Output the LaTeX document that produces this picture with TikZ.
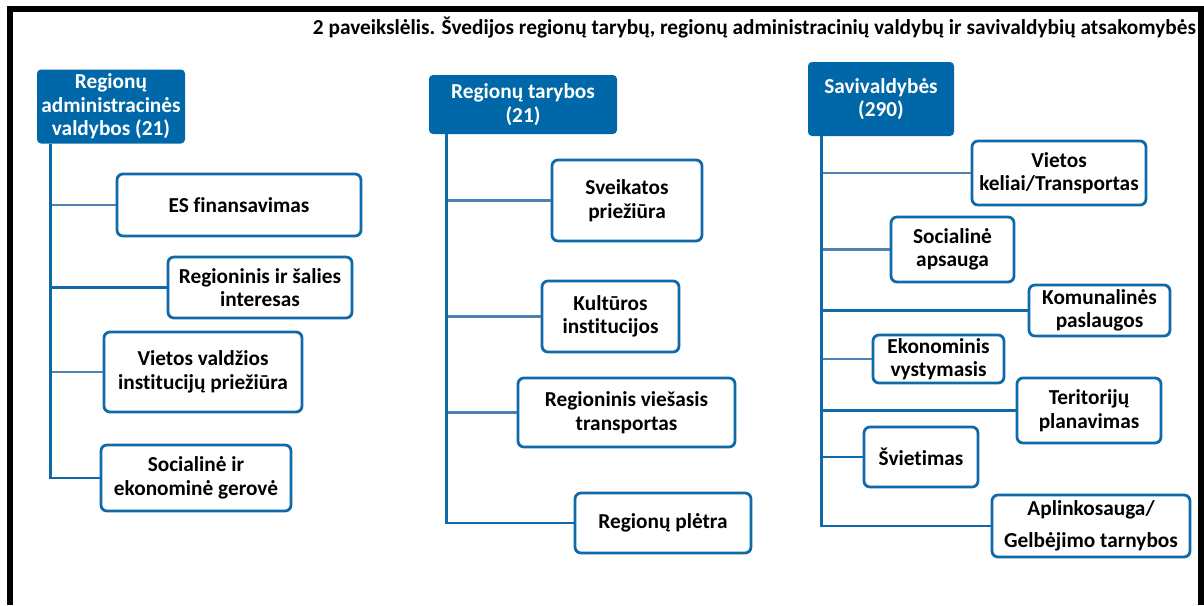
\documentclass[tikz,border=0pt]{standalone}
\usepackage{fontspec}
\setmainfont{Carlito}[Ligatures={NoCommon}]
\usetikzlibrary{calc}
\definecolor{hdrblue}{RGB}{0,104,168}
\definecolor{lineblue}{RGB}{16,106,170}
\definecolor{softblue}{RGB}{78,128,178}
\newcommand{\boxfont}{\bfseries\fontsize{21.3}{23.5}\selectfont}
\tikzset{
  hdr/.style={fill=hdrblue, draw=none, rounded corners=4pt, text=white,
    font=\boxfont, align=center, inner sep=0pt},
  item/.style={draw=lineblue, line width=2.8pt, fill=white, rounded corners=6pt,
    font=\boxfont, align=center, inner sep=0pt},
  trunk/.style={draw=lineblue, line width=2.8pt},
  twig/.style={draw=lineblue, line width=2.8pt},
  softtwig/.style={draw=softblue, line width=2.8pt},
}
\begin{document}
\begin{tikzpicture}[x=1pt, y=-1pt]
\useasboundingbox (0,0) rectangle (1204,605);
% outer frame (open at the bottom)
\fill[black] (7,6) rectangle (1204,12);
\fill[black] (7,6) rectangle (13,605);
\fill[black] (1198,6) rectangle (1204,605);

% heading
\node[anchor=base east, inner sep=0pt, font=\boxfont] (title) at (1196,34)
  {2 paveikslėlis. Švedijos regionų tarybų, regionų administracinių valdybų ir savivaldybių atsakomybės};

% ---------- column 1 ----------
\node[hdr, minimum width=148pt, minimum height=74pt] (h1) at (111,106.5)
  {Regionų\\administracinės\\valdybos (21)};
\node[item, minimum width=244pt, minimum height=62pt] (a1) at (239,205) {ES finansavimas};
\node[item, minimum width=184pt, minimum height=61pt] (a2) at (260,287.5) {Regioninis ir šalies\\interesas};
\node[item, minimum width=198pt, minimum height=80pt] (a3) at (203,372) {Vietos valdžios\\institucijų priežiūra};
\node[item, minimum width=190pt, minimum height=66pt] (a4) at (196,478) {Socialinė ir\\ekonominė gerovė};
\coordinate (t1) at ($(h1.south west)+(14,0)$);

% ---------- column 2 ----------
\node[hdr, minimum width=188pt, minimum height=59pt] (h2) at (523,104.5)
  {Regionų tarybos\\(21)};
\node[item, minimum width=150pt, minimum height=81pt] (b1) at (627,200.5) {Sveikatos\\priežiūra};
\node[item, minimum width=137pt, minimum height=71pt] (b2) at (610.5,316.5) {Kultūros\\institucijos};
\node[item, minimum width=217pt, minimum height=69pt] (b3) at (626.5,412.5) {Regioninis viešasis\\transportas};
\node[item, minimum width=176pt, minimum height=60pt] (b4) at (663,523) {Regionų plėtra};
\coordinate (t2) at ($(h2.south west)+(18,0)$);

% ---------- column 3 ----------
\node[hdr, minimum width=146pt, minimum height=74pt] (h3) at (881,99)
  {Savivaldybės\\(290)};
\node[item, minimum width=174pt, minimum height=64pt] (c1) at (1059,173) {Vietos\\keliai/Transportas};
\node[item, minimum width=123pt, minimum height=65pt] (c2) at (952.5,249.5) {Socialinė\\apsauga};
\node[item, minimum width=141pt, minimum height=51pt] (c3) at (1099.5,310.5) {Komunalinės\\paslaugos};
\node[item, minimum width=131pt, minimum height=48pt] (c4) at (938.5,359) {Ekonominis\\vystymasis};
\node[item, minimum width=144pt, minimum height=65pt] (c5) at (1089,410.5) {Teritorijų\\planavimas};
\node[item, minimum width=114pt, minimum height=60pt] (c6) at (921,457) {Švietimas};
\node[item, minimum width=198pt, minimum height=62pt] (c7) at (1091,526) {Aplinkosauga/\\[9pt]Gelbėjimo tarnybos};
\coordinate (t3) at ($(h3.south west)+(14,0)$);

% ---------- connectors ----------
\draw[softtwig] (t1 |- a1.west) -- (a1.west);
\draw[twig] (t1 |- a2.west) -- (a2.west);
\draw[softtwig] (t1 |- a3.west) -- (a3.west);
\draw[trunk] (t1) |- (a4.west);

\draw[softtwig] (t2 |- b1.west) -- (b1.west);
\draw[softtwig] (t2 |- b2.west) -- (b2.west);
\draw[softtwig] (t2 |- b3.west) -- (b3.west);
\draw[trunk] (t2) |- (b4.west);

\draw[softtwig] (t3 |- c1.west) -- (c1.west);
\draw[softtwig] (t3 |- c2.west) -- (c2.west);
\draw[twig] (t3 |- c3.west) -- (c3.west);
\draw[softtwig] (t3 |- c4.west) -- (c4.west);
\draw[twig] (t3 |- c5.west) -- (c5.west);
\draw[twig] (t3 |- c6.west) -- (c6.west);
\draw[trunk] (t3) |- (c7.west);
\end{tikzpicture}
\end{document}
